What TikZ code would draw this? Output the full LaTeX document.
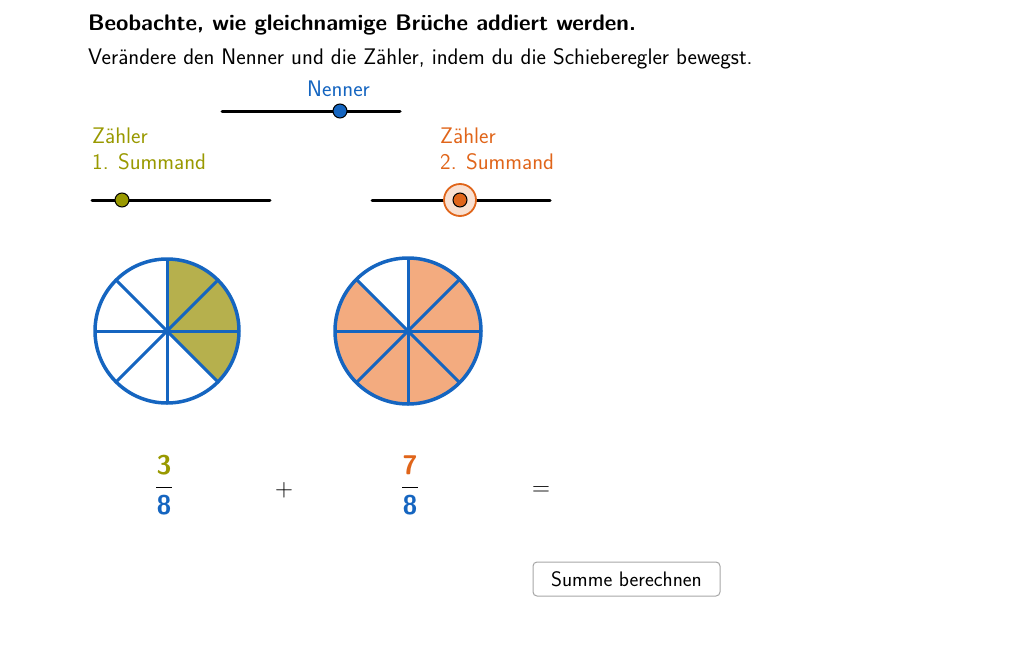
\documentclass[tikz,border=0pt]{standalone}
\usepackage{fontspec}
\setmainfont{TeX Gyre Heros}
\definecolor{olv}{HTML}{999900}
\definecolor{org}{HTML}{E0651A}
\definecolor{blu}{HTML}{1565C0}
\definecolor{olvf}{HTML}{B6B04D}
\definecolor{orgf}{HTML}{F3AB7F}
\begin{document}
\begin{tikzpicture}[x=1pt,y=-1pt,
  txt/.style={anchor=west,inner sep=0pt,font=\fontsize{22.5}{26}\selectfont\sffamily},
  bar/.style={line width=3pt,line cap=round},
  knob/.style={circle,draw=black,line width=1pt,minimum size=14pt,inner sep=0pt},
  spoke/.style={draw=blu,line width=3pt},
  frac/.style={font=\fontsize{27}{30}\selectfont\sffamily\bfseries,inner sep=0pt}]
\useasboundingbox (0,0) rectangle (1032,645);
\node[txt,font=\fontsize{22.5}{26}\selectfont\sffamily\bfseries] (t1) at (88,25) {Beobachte, wie gleichnamige Brüche addiert werden.};
\node[txt] (t2) at (88,59) {Verändere den Nenner und die Zähler, indem du die Schieberegler bewegst.};
% Nenner slider
\node[txt,blu] (ln) at (307,89) {Nenner};
\coordinate (n1) at (222,111); \coordinate (n2) at (400,111);
\draw[bar] (n1) -- (n2);
\node[knob,fill=blu] (kn) at (340,111) {};
% Zaehler 1
\node[txt,olv,align=left,anchor=north west] (l1) at (92,128) {Zähler\\[0pt]1. Summand};
\coordinate (a1) at (92,200); \coordinate (a2) at (270,200);
\draw[bar] (a1) -- (a2);
\node[knob,fill=olv] (k1) at (122,200) {};
% Zaehler 2
\node[txt,org,align=left,anchor=north west] (l2) at (440,128) {Zähler\\[0pt]2. Summand};
\coordinate (b1) at (372,200); \coordinate (b2) at (550,200);
\draw[bar] (b1) -- (b2);
\node[circle,draw=org,fill=org!20,line width=1.8pt,minimum size=32pt] (halo) at (460,200) {};
\node[knob,fill=org] (k2) at (460,200) {};
% circle 1
\coordinate (c1) at (167,331);
\fill[olvf] (c1) -- ++(-90:72) arc[start angle=-90,end angle=45,radius=72] -- cycle;
\foreach \a in {0,45,...,315} \draw[spoke] (c1) -- ++(\a:72);
\draw[blu,line width=3.5pt] (c1) circle[radius=72];
% circle 2
\coordinate (c2) at (408,331);
\fill[orgf] (c2) -- ++(-90:73) arc[start angle=-90,end angle=225,radius=73] -- cycle;
\foreach \a in {0,45,...,315} \draw[spoke] (c2) -- ++(\a:73);
\draw[blu,line width=3.5pt] (c2) circle[radius=73];
% fractions
\node[frac,olv] (f1n) at (164,465) {3};
\node[frac,blu] (f1d) at (164,505) {8};
\draw[line width=1pt] (156,487) -- (172,487);
\node[frac,org] (f2n) at (410,465) {7};
\node[frac,blu] (f2d) at (410,505) {8};
\draw[line width=1pt] (402,487) -- (418,487);
\node[font=\fontsize{30}{32}\selectfont] (plus) at (284,490) {$+$};
\node[font=\fontsize{30}{32}\selectfont] (eq) at (541,491) {$=$};
% button
\node[draw=gray!70,line width=1pt,rounded corners=4pt,minimum width=187pt,minimum height=34pt,font=\fontsize{21}{24}\selectfont\sffamily] (btn) at (626.5,579) {Summe berechnen};
\end{tikzpicture}
\end{document}
